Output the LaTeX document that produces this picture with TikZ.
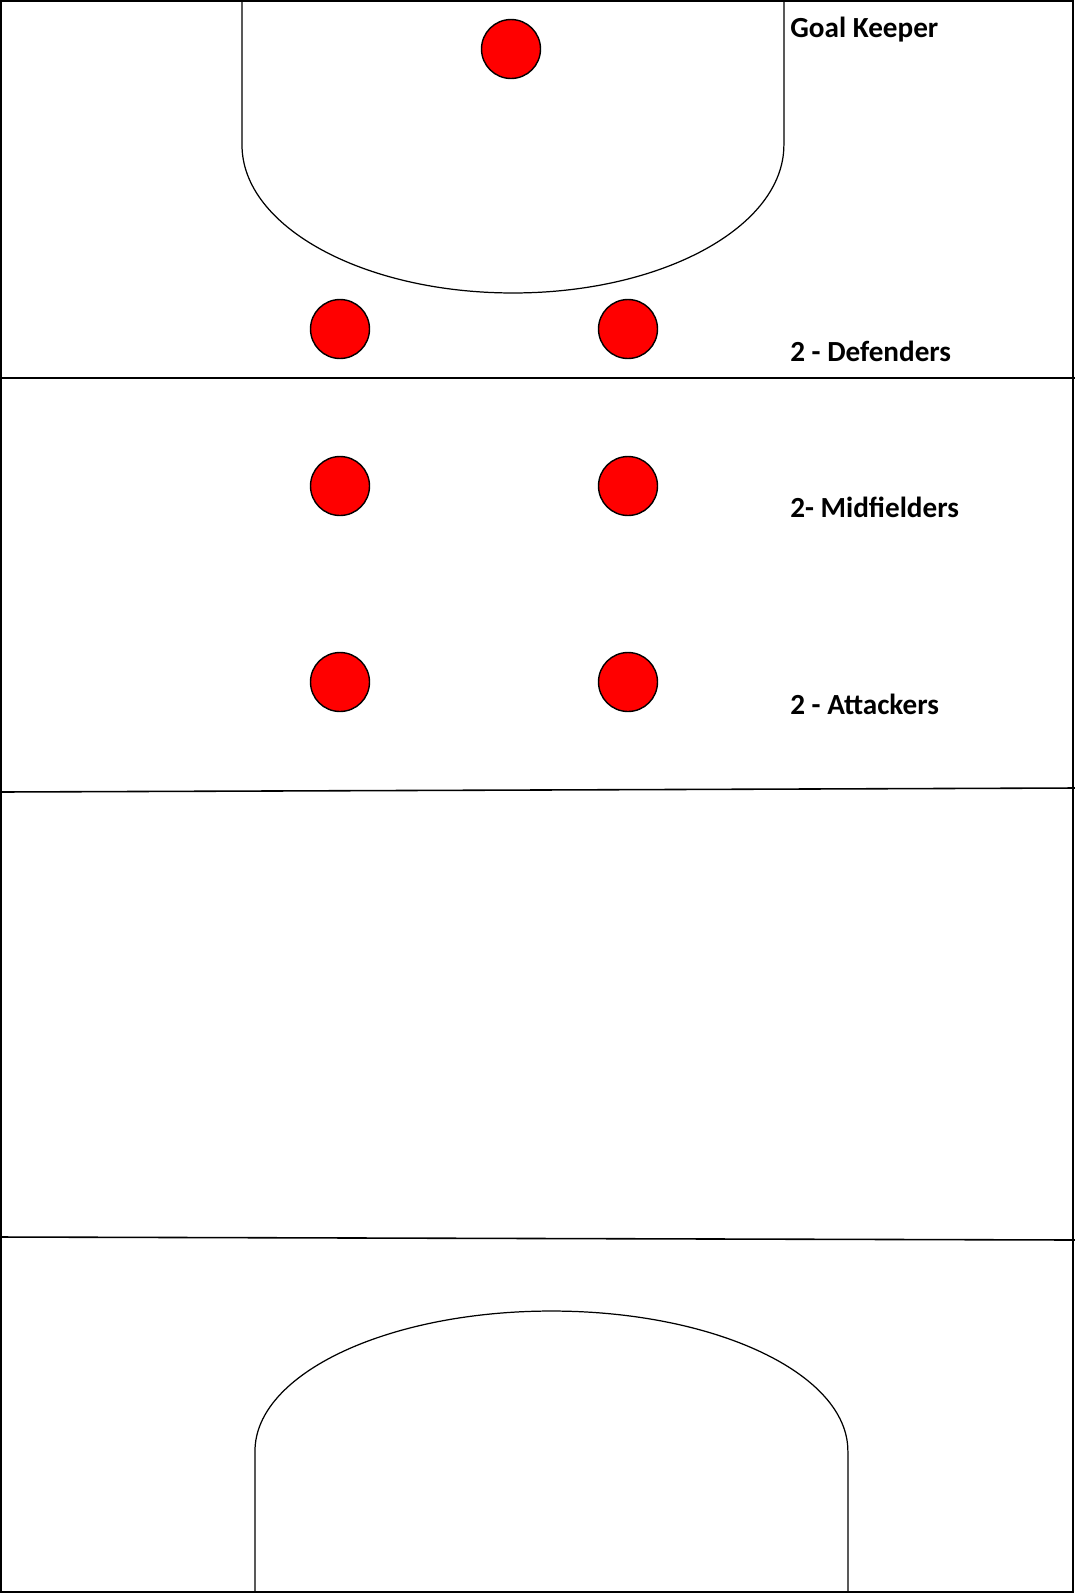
\documentclass[tikz,border=0pt]{standalone}
\usepackage{fontspec}
\setmainfont{Carlito}
\usepackage{xcolor}
\usepackage{tikz}
\definecolor{playerred}{RGB}{255, 0, 0}
\tikzset{
  player/.style={circle, draw=black, thick, fill=playerred, minimum size=1.18cm, inner sep=0pt},
  position/.style={anchor=west, inner sep=0pt, font=\bfseries\fontsize{16.6}{19}\selectfont},
  fieldline/.style={draw=black, line width=0.7pt}
}

\begin{document}
\begin{tikzpicture}[x=0.02cm, y=-0.02cm]
  \useasboundingbox (0,0) rectangle (1075,1593);
  \fill[white] (0,0) rectangle (1075,1593);

  % Pitch outline and thirds
  \draw[fieldline, line width=0.9pt] (1,1) rectangle (1073,1592);
  \draw[fieldline, line width=0.9pt] (0,378) -- (1075,378);
  \draw[fieldline, line width=0.9pt] (0,792) -- (1075,788);
  \draw[fieldline, line width=0.9pt] (0,1237) -- (1075,1240);

  % Goal areas
  \draw[fieldline] (242,0) -- (242,145) arc (-180:0:5.42cm and 2.96cm) -- (784,0);
  \draw[fieldline] (255,1593) -- (255,1451) arc (180:0:5.93cm and 2.8cm) -- (848,1593);

  % Players
  \node[player] (gk) at (511,49) {};
  \node[player] (defL) at (340,329) {};
  \node[player] (defR) at (628,329) {};
  \node[player] (midL) at (340,486) {};
  \node[player] (midR) at (628,486) {};
  \node[player] (attL) at (340,682) {};
  \node[player] (attR) at (628,682) {};

  % Labels
  \node[position] (lblgk) at (790,30) {Goal Keeper};
  \node[position] (lbldef) at (790,351) {2 - Defenders};
  \node[position] (lblmid) at (790,507) {2- Midfielders};
  \node[position] (lblatt) at (790,704) {2 - Attackers};
\end{tikzpicture}
\end{document}
